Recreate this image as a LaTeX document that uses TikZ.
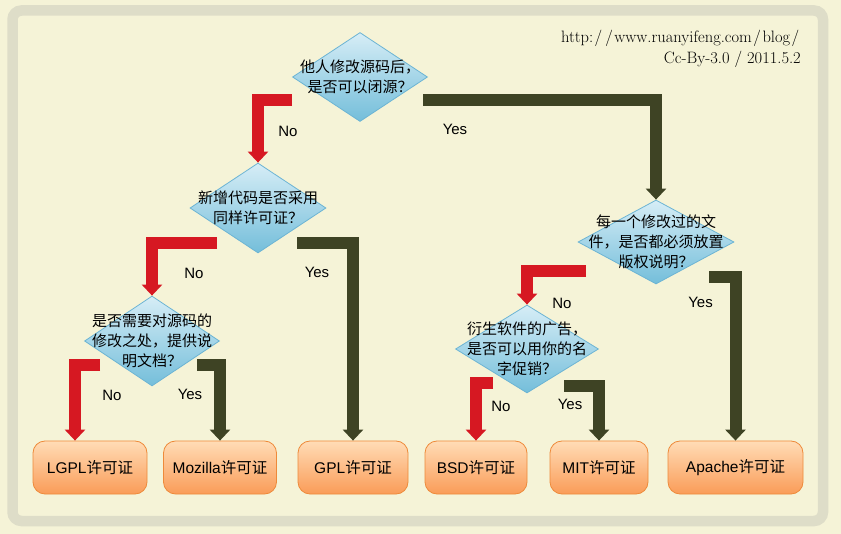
\documentclass[tikz,border=0pt]{standalone}
\usepackage{fontspec}
\newfontfamily\cjk{Noto Sans CJK SC}
\newfontfamily\arial{Liberation Sans}
\usetikzlibrary{shapes.geometric,arrows.meta}
\definecolor{paper}{RGB}{245,243,215}
\definecolor{frameband}{RGB}{222,221,200}
\definecolor{qtop}{RGB}{214,237,246}
\definecolor{qbot}{RGB}{116,190,218}
\definecolor{qline}{RGB}{108,180,212}
\definecolor{ltop}{RGB}{255,220,182}
\definecolor{lbot}{RGB}{250,156,88}
\definecolor{lline}{RGB}{238,138,58}
\definecolor{nored}{RGB}{214,24,34}
\definecolor{yesolive}{RGB}{62,67,36}
\newcommand\licname[1]{{\arial #1}{\cjk 许可证}}
\newcommand\urlslash{\kern1.5pt/\kern1.5pt}
\begin{document}
\begin{tikzpicture}[x=1pt, y=-1pt, line join=miter,
	quest/.style={diamond, draw=qline, line width=0.8pt, top color=qtop, bottom color=qbot, inner sep=0pt},
	qtext/.style={font=\cjk\fontsize{15}{20}\selectfont, align=center, inner sep=0pt},
	lic/.style={draw=lline, line width=0.8pt, rounded corners=12pt, top color=ltop, bottom color=lbot, minimum height=53pt, font=\fontsize{15.5}{18}\selectfont},
	conn/.style={line width=12pt, -{Triangle[width=20pt,length=11pt]}},
	noarrow/.style={conn, draw=nored},
	yesarrow/.style={conn, draw=yesolive},
	ans/.style={font=\arial\fontsize{15}{18}\selectfont, inner sep=0pt}]
	\useasboundingbox (0,0) rectangle (841,534);
	\fill[paper] (0,0) rectangle (841,534);
	\draw[frameband, line width=10.5pt, rounded corners=9pt] (12.5,10.5) rectangle (823,521);
	% questions
	\node[quest, minimum width=135pt, minimum height=89pt, label={[qtext, name=t1]center:{他人修改源码后，\\是否可以闭源？}}] (q1) at (360,77) {};
	\node[quest, minimum width=136pt, minimum height=90pt, label={[qtext, name=t2]center:{新增代码是否采用\\同样许可证？}}] (q2) at (258,208) {};
	\node[quest, minimum width=135pt, minimum height=90pt, label={[qtext, name=t3]center:{是否需要对源码的\\修改之处，提供说\\明文档？}}] (q3) at (152,341) {};
	\node[quest, minimum width=156pt, minimum height=84pt, label={[qtext, name=t4]center:{每一个修改过的文\\件，是否都必须放置\\版权说明？}}] (q4) at (656,242) {};
	\node[quest, minimum width=143pt, minimum height=88pt, label={[qtext, name=t5]center:{衍生软件的广告，\\是否可以用你的名\\字促销？}}] (q5) at (527,349) {};
	% licences
	\node[lic, minimum width=114pt] (lgpl) at (90,467.5) {\licname{LGPL}};
	\node[lic, minimum width=113pt] (moz) at (220,467.5) {\licname{Mozilla}};
	\node[lic, minimum width=110pt] (gpl) at (353,467.5) {\licname{GPL}};
	\node[lic, minimum width=102pt] (bsd) at (476,467.5) {\licname{BSD}};
	\node[lic, minimum width=98pt] (mit) at (599,467.5) {\licname{MIT}};
	\node[lic, minimum width=135pt] (apache) at (735.5,467.5) {\licname{Apache}};
	% arrows
	\draw[noarrow] ([shift={(-68,23)}]q1.center) -| (q2.north);
	\draw[yesarrow] ([shift={(63,23)}]q1.center) -| (q4.north);
	\draw[noarrow] ([shift={(-41,35)}]q2.center) -| (q3.north);
	\draw[yesarrow] ([shift={(39,35)}]q2.center) -| (gpl.north);
	\draw[noarrow] ([shift={(-52,24)}]q3.center) -| ([xshift=-15pt]lgpl.north);
	\draw[yesarrow] ([shift={(45,24)}]q3.center) -| (moz.north);
	\draw[noarrow] ([shift={(-70,29.5)}]q4.center) -| (q5.north);
	\draw[yesarrow] ([shift={(53,35.5)}]q4.center) -| (apache.north);
	\draw[noarrow] ([shift={(-34,34.5)}]q5.center) -| (bsd.north);
	\draw[yesarrow] ([shift={(37,37)}]q5.center) -| (mit.north);
	% answers
	\node[ans] (n1) at (288,131) {No};
	\node[ans] (y1) at (455,129) {Yes};
	\node[ans] (n2) at (194,273) {No};
	\node[ans] (y2) at (317,272) {Yes};
	\node[ans] (n3) at (112,395) {No};
	\node[ans] (y3) at (190,394) {Yes};
	\node[ans] (n4) at (562,303) {No};
	\node[ans] (y4) at (700.5,302.5) {Yes};
	\node[ans] (n5) at (501,406) {No};
	\node[ans] (y5) at (570,404) {Yes};
	% source
	\node[anchor=base east, inner sep=0pt, font=\fontsize{16.5}{21}\selectfont] (url) at (801,43) {http:\urlslash\urlslash www.ruanyifeng.com\urlslash blog\urlslash};
	\node[anchor=base east, inner sep=0pt, font=\fontsize{16.5}{21}\selectfont] (ccby) at (801,64) {Cc-By-3.0 / 2011.5.2};
\end{tikzpicture}
\end{document}
